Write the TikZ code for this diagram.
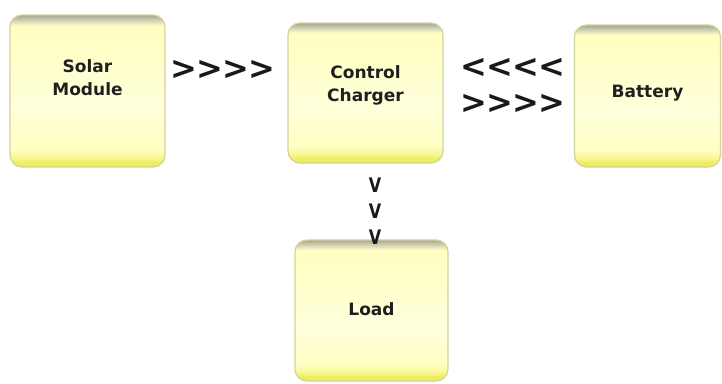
\documentclass[tikz,border=0pt]{standalone}
\usepackage{fontspec}
\setmainfont{DejaVu Sans}
\definecolor{boxdark}{HTML}{EDED5E}
\definecolor{boxmid}{HTML}{F6F690}
\definecolor{boxlight}{HTML}{FFFFC4}
\definecolor{boxpale}{HTML}{FFFFDC}
\definecolor{boxtop}{HTML}{A6A696}
\definecolor{boxgrey}{HTML}{D8D8B8}
\definecolor{boxedge}{HTML}{D2D29A}
% vertical shading: grey rim on top, pale body, strong yellow rim at the bottom
\pgfdeclareverticalshading{panelshade}{100bp}{%
  color(0bp)=(boxdark); color(25bp)=(boxdark); color(26.5bp)=(boxdark);
  color(28bp)=(boxmid); color(31bp)=(boxlight); color(45bp)=(boxpale);
  color(66bp)=(boxlight); color(71.5bp)=(boxlight); color(73bp)=(boxgrey);
  color(75bp)=(boxtop); color(100bp)=(boxtop)}
\newcommand{\chevs}[1]{#1\kern-1pt#1\kern-1pt#1\kern-1pt#1}
\tikzset{
  panel/.style={rounded corners=12pt, shading=panelshade, draw=boxedge,
    line width=1.2pt, inner sep=0pt},
  lbl/.style={font=\bfseries\fontsize{17}{23}\selectfont, align=center,
    text=black!88, inner sep=0pt},
  chev/.style={font=\bfseries\fontsize{32}{32}\selectfont, inner sep=0pt,
    text=black!90},
  vmark/.style={font=\bfseries\fontsize{20}{20}\selectfont, inner sep=0pt,
    text=black!90},
}
\begin{document}
\begin{tikzpicture}[x=1pt,y=-1pt]
\useasboundingbox[fill=white] (0,0) rectangle (722,383);
% boxes
\node[panel, minimum width=155pt, minimum height=152pt] (solar) at (87.5,91) {};
\node[panel, minimum width=155pt, minimum height=140pt] (ctrl) at (365.5,93) {};
\node[panel, minimum width=146pt, minimum height=142pt] (batt) at (647.5,96) {};
\node[panel, minimum width=153pt, minimum height=141pt] (load) at (371.5,310.5) {};
% labels
\node[lbl] (solartxt) at ([yshift=13pt]solar.center) {Solar\\Module};
\node[lbl] (ctrltxt) at ([yshift=8pt]ctrl.center) {Control\\Charger};
\node[lbl] (batttxt) at ([yshift=3pt]batt.center) {Battery};
\node[lbl] (loadtxt) at ([yshift=1pt]load.center) {Load};
% flow marks
\node[chev] (sol2ctrl) at (223,70) {\chevs{>}};
\node[chev] (batt2ctrl) at (513,68) {\chevs{<}};
\node[chev] (ctrl2batt) at (513,104) {\chevs{>}};
\node[vmark] (v1) at (375,185) {\scalebox{0.8}[1]{V}};
\node[vmark] (v2) at (375,211) {\scalebox{0.8}[1]{V}};
\node[vmark] (v3) at (375,237) {\scalebox{0.8}[1]{V}};
\end{tikzpicture}
\end{document}
